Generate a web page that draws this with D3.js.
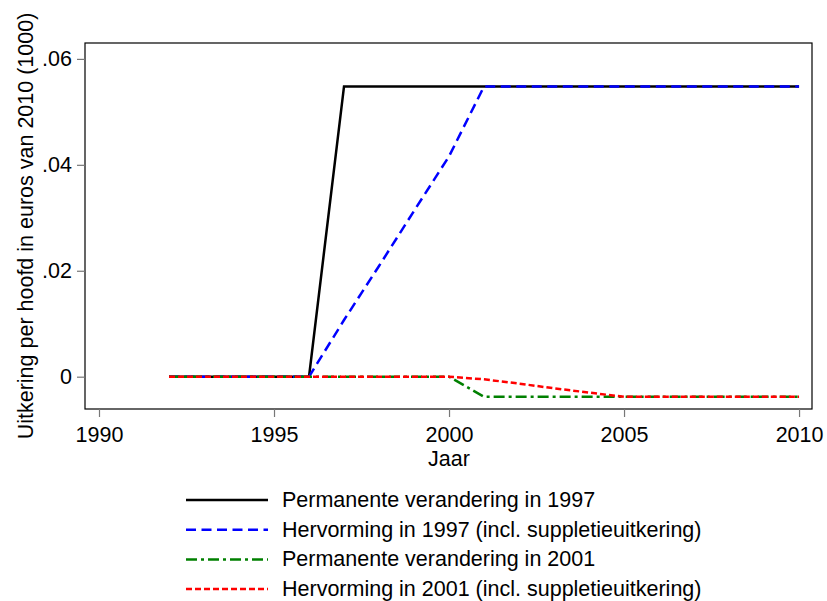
<!DOCTYPE html>
<html><head><meta charset="utf-8">
<script src="https://cdn.jsdelivr.net/npm/d3@7"></script>
<style>body{margin:0;background:#fff}svg{display:block}text{font-family:"Liberation Sans",Arial,sans-serif}</style>
</head><body>
<svg id="c" width="827" height="601"></svg>
<script>
const years = [1992,1993,1994,1995,1996,1997,1998,1999,2000,2001,2002,2003,2004,2005,2006,2007,2008,2009,2010];
const perm1997 = [0,0,0,0,0,0.0548,0.0548,0.0548,0.0548,0.0548,0.0548,0.0548,0.0548,0.0548,0.0548,0.0548,0.0548,0.0548,0.0548];
const herv1997 = [0,0,0,0,0,0.0107,0.0209,0.0313,0.0416,0.0548,0.0548,0.0548,0.0548,0.0548,0.0548,0.0548,0.0548,0.0548,0.0548];
const perm2001 = [0,0,0,0,0,0,0,0,0,-0.0038,-0.0038,-0.0038,-0.0038,-0.0038,-0.0038,-0.0038,-0.0038,-0.0038,-0.0038];
const herv2001 = [0,0,0,0,0,0,0,0,0,-0.0005,-0.0013,-0.0022,-0.003,-0.0038,-0.0038,-0.0038,-0.0038,-0.0038,-0.0038];
const seriesNames = ["Permanente verandering in 1997","Hervorming in 1997 (incl. suppletieuitkering)","Permanente verandering in 2001","Hervorming in 2001 (incl. suppletieuitkering)"];
const xTicks = [1990,1995,2000,2005,2010];
const yTicks = [0,0.02,0.04,0.06];
const yTickLabels = ["0",".02",".04",".06"];
const xTitle = "Jaar";
const yTitle = "Uitkering per hoofd in euros van 2010 (1000)";

const series = [
  {name: seriesNames[0], values: perm1997, color: "#000000", dash: null},
  {name: seriesNames[1], values: herv1997, color: "#0000ff", dash: "10,5.5"},
  {name: seriesNames[2], values: perm2001, color: "#008000", dash: "11,4,3,4"},
  {name: seriesNames[3], values: herv2001, color: "#ff0000", dash: "6,3"}
];

const FS = 21.5;
const svg = d3.select("#c");
const L = 85, R = 812, T = 43, B = 409;
const x = d3.scaleLinear().domain([1989.6, 2010.37]).range([L, R]);
const y = d3.scaleLinear().domain([-0.0061, 0.063]).range([B, T]);

svg.append("rect").attr("x", L).attr("y", T).attr("width", R - L).attr("height", B - T)
  .attr("fill", "none").attr("stroke", "#000").attr("stroke-width", 1.2);

const xAxis = d3.axisBottom(x).tickValues(xTicks).tickFormat(d3.format("d")).tickSize(8).tickPadding(10);
const gx = svg.append("g").attr("transform", `translate(0,${B})`).call(xAxis);
gx.select(".domain").remove();
gx.selectAll(".tick line").attr("stroke", "#777").attr("stroke-width", 1.2);
gx.selectAll(".tick text").attr("font-size", FS).attr("fill", "#000").attr("font-family", '"Liberation Sans",Arial,sans-serif');

const yAxis = d3.axisLeft(y).tickValues(yTicks).tickFormat((d, i) => yTickLabels[i]).tickSize(8).tickPadding(5);
const gy = svg.append("g").attr("transform", `translate(${L},0)`).call(yAxis);
gy.select(".domain").remove();
gy.selectAll(".tick line").attr("stroke", "#777").attr("stroke-width", 1.2);
gy.selectAll(".tick text").attr("font-size", FS).attr("fill", "#000").attr("font-family", '"Liberation Sans",Arial,sans-serif');

svg.append("text").attr("x", (x(1990)+x(2010))/2).attr("y", 465.5).attr("text-anchor", "middle")
  .attr("font-size", FS).text(xTitle);
svg.append("text").attr("transform", `translate(33,${(T+B)/2}) rotate(-90)`).attr("text-anchor", "middle")
  .attr("font-size", FS).text(yTitle);

const line = d3.line().x((d, i) => x(years[i])).y(d => y(d));
series.forEach(s => {
  svg.append("path").datum(s.values).attr("d", line).attr("fill", "none")
    .attr("stroke", s.color).attr("stroke-width", 2.5)
    .attr("stroke-dasharray", s.dash).attr("stroke-linejoin", "miter");
});

const lg = svg.append("g");
series.forEach((s, i) => {
  const yy = 500 + i * 29.7;
  lg.append("line").attr("x1", 186).attr("x2", 268).attr("y1", yy).attr("y2", yy)
    .attr("stroke", s.color).attr("stroke-width", 2.5).attr("stroke-dasharray", s.dash);
  lg.append("text").attr("x", 282).attr("y", yy + 7).attr("font-size", FS).text(s.name);
});
</script>
</body></html>
